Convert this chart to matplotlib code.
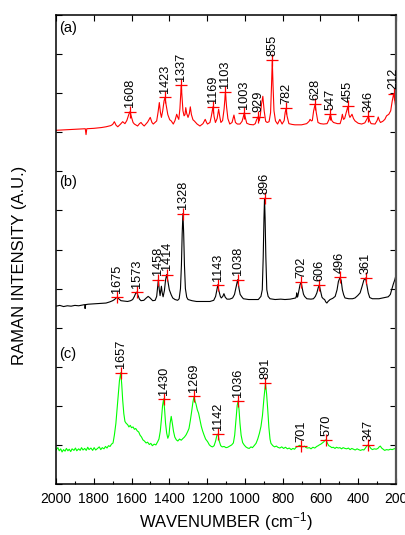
import numpy as np
import matplotlib
matplotlib.use("Agg")
from matplotlib import pyplot as plt

plt.rcParams['font.family'] = ['Liberation Sans', 'DejaVu Sans']
plt.rcParams['mathtext.fontset'] = 'custom'
plt.rcParams['mathtext.rm'] = 'Liberation Sans'
plt.rcParams['mathtext.default'] = 'regular'

# spectrum (a) - red, values in axis units (offset already included)
wn_a = [2000, 1960, 1920, 1880, 1845, 1841, 1837, 1800, 1760, 1735, 1710, 1700, 1691, 1682, 1673,
        1660, 1647, 1635, 1625, 1615, 1608, 1600, 1592, 1585, 1568, 1558, 1550, 1542, 1533, 1515,
        1501, 1492, 1485, 1467, 1460, 1453, 1447, 1442, 1435, 1428, 1423, 1417, 1408, 1398, 1390,
        1379, 1370, 1361, 1355, 1350, 1344, 1340, 1337, 1333, 1328, 1322, 1317, 1313, 1308, 1301,
        1294, 1289, 1283, 1275, 1268, 1253, 1238, 1222, 1210, 1203, 1198, 1185, 1178, 1169, 1163,
        1156, 1147, 1139, 1133, 1127, 1118, 1110, 1103, 1097, 1090, 1080, 1068, 1058, 1050, 1040,
        1026, 1015, 1008, 1003, 998, 990, 975, 955, 945, 938, 929, 924, 918, 912, 905,
        898, 890, 882, 872, 864, 859, 855, 851, 846, 838, 827, 815, 803, 792, 787,
        782, 777, 767, 750, 735, 700, 673, 660, 655, 648, 643, 636, 628, 622, 613,
        600, 584, 565, 555, 547, 540, 531, 510, 496, 489, 484, 478, 472, 464, 455,
        449, 444, 438, 433, 425, 417, 400, 382, 365, 356, 346, 340, 332, 311, 300,
        294, 288, 282, 270, 259, 250, 238, 228, 220, 212, 206, 200]
int_a = [9.05, 9.06, 9.07, 9.08, 9.09, 8.94, 9.09, 9.10, 9.12, 9.14, 9.17, 9.20, 9.27, 9.18, 9.14,
         9.20, 9.27, 9.22, 9.30, 9.45, 9.53, 9.38, 9.25, 9.21, 9.16, 9.22, 9.25, 9.20, 9.16, 9.26,
         9.38, 9.25, 9.21, 9.29, 9.50, 9.76, 9.50, 9.38, 9.55, 9.80, 9.89, 9.70, 9.45, 9.32, 9.29,
         9.21, 9.30, 9.46, 9.38, 9.33, 9.60, 9.95, 10.21, 9.90, 9.55, 9.42, 9.45, 9.63, 9.48, 9.38,
         9.48, 9.65, 9.45, 9.32, 9.29, 9.21, 9.16, 9.22, 9.33, 9.25, 9.21, 9.25, 9.40, 9.65, 9.40,
         9.25, 9.35, 9.59, 9.40, 9.25, 9.30, 9.60, 10.02, 9.65, 9.35, 9.21, 9.25, 9.44, 9.25, 9.21,
         9.21, 9.28, 9.40, 9.50, 9.38, 9.23, 9.20, 9.19, 9.22, 9.32, 9.40, 9.29, 9.45, 9.72, 9.92,
         9.55, 9.28, 9.25, 9.27, 9.50, 10.20, 10.85, 10.20, 9.55, 9.29, 9.21, 9.33, 9.21, 9.30, 9.50,
         9.61, 9.42, 9.22, 9.20, 9.19, 9.19, 9.22, 9.28, 9.33, 9.29, 9.30, 9.55, 9.72, 9.50, 9.25,
         9.22, 9.21, 9.22, 9.32, 9.46, 9.30, 9.25, 9.22, 9.22, 9.33, 9.46, 9.33, 9.35, 9.50, 9.66,
         9.45, 9.38, 9.42, 9.46, 9.35, 9.29, 9.23, 9.21, 9.24, 9.32, 9.41, 9.30, 9.22, 9.21, 9.30,
         9.39, 9.30, 9.25, 9.28, 9.33, 9.42, 9.46, 9.55, 9.80, 9.99, 9.80, 9.60]
pk_a = [1608, 1423, 1337, 1169, 1103, 1003, 929, 855, 782, 628, 547, 455, 346, 212]
pkh_a = [9.53, 9.89, 10.21, 9.65, 10.02, 9.50, 9.40, 10.85, 9.61, 9.72, 9.46, 9.66, 9.41, 9.99]

# spectrum (b) - black
wn_b = [2000, 1980, 1960, 1940, 1920, 1900, 1880, 1860, 1848, 1846, 1843, 1830, 1800, 1770, 1735,
        1715, 1700, 1690, 1682, 1675, 1668, 1656, 1640, 1621, 1605, 1594, 1585, 1578, 1573, 1567,
        1558, 1550, 1535, 1522, 1512, 1502, 1488, 1475, 1467, 1462, 1458, 1454, 1449, 1445, 1442,
        1438, 1433, 1426, 1420, 1414, 1408, 1400, 1390, 1382, 1370, 1356, 1348, 1341, 1336, 1332,
        1328, 1324, 1320, 1315, 1308, 1301, 1280, 1256, 1220, 1185, 1165, 1155, 1148, 1143, 1138,
        1130, 1125, 1117, 1111, 1104, 1095, 1080, 1065, 1055, 1046, 1038, 1031, 1025, 1015, 1008,
        980, 950, 929, 915, 908, 903, 899, 896, 893, 889, 884, 877, 867, 840, 810,
        788, 760, 740, 731, 727, 726, 723, 720, 714, 708, 702, 696, 690, 684, 672,
        650, 637, 627, 619, 612, 606, 600, 592, 585, 578, 572, 566, 560, 549, 535,
        522, 512, 505, 496, 490, 484, 477, 470, 450, 430, 417, 403, 390, 380, 370,
        361, 355, 347, 339, 325, 312, 290, 260, 241, 230, 223, 214, 206, 200]
int_b = [4.55, 4.57, 4.54, 4.56, 4.55, 4.57, 4.56, 4.58, 4.59, 4.49, 4.59, 4.60, 4.61, 4.62, 4.63,
         4.66, 4.69, 4.72, 4.76, 4.78, 4.74, 4.69, 4.68, 4.67, 4.69, 4.72, 4.80, 4.88, 4.91, 4.84,
         4.73, 4.69, 4.70, 4.76, 4.80, 4.76, 4.69, 4.70, 4.80, 5.05, 5.23, 5.00, 4.82, 4.95, 5.06,
         4.90, 4.79, 4.95, 5.22, 5.36, 5.20, 4.97, 4.84, 4.76, 4.72, 4.70, 4.74, 5.00, 5.60, 6.40,
         6.92, 6.40, 5.60, 5.00, 4.78, 4.72, 4.69, 4.67, 4.67, 4.67, 4.70, 4.80, 4.98, 5.10, 4.95,
         4.80, 4.76, 4.80, 4.87, 4.78, 4.73, 4.73, 4.76, 4.85, 5.05, 5.23, 5.00, 4.85, 4.78, 4.74,
         4.72, 4.72, 4.72, 4.80, 4.97, 5.80, 6.80, 7.31, 6.80, 5.80, 4.97, 4.80, 4.74, 4.72, 4.73,
         4.72, 4.73, 4.75, 4.76, 4.82, 4.89, 4.78, 4.80, 4.95, 5.10, 5.16, 5.00, 4.86, 4.80, 4.74,
         4.73, 4.74, 4.80, 4.89, 5.02, 5.09, 4.95, 4.78, 4.74, 4.72, 4.66, 4.63, 4.67, 4.72, 4.75,
         4.80, 4.97, 5.18, 5.29, 5.20, 4.97, 4.84, 4.76, 4.74, 4.74, 4.76, 4.82, 4.89, 5.05, 5.22,
         5.27, 5.10, 4.89, 4.77, 4.74, 4.74, 4.74, 4.77, 4.79, 4.85, 4.97, 5.12, 5.23, 5.35]
pk_b = [1675, 1573, 1458, 1414, 1328, 1143, 1038, 896, 702, 606, 496, 361]
pkh_b = [4.78, 4.91, 5.23, 5.36, 6.92, 5.10, 5.23, 7.31, 5.16, 5.09, 5.29, 5.27]

# spectrum (c) - green
wn_c = [2000, 1990, 1983, 1975, 1968, 1960, 1952, 1945, 1937, 1930, 1922, 1915, 1905, 1897, 1890,
        1880, 1872, 1865, 1857, 1848, 1840, 1832, 1825, 1815, 1806, 1798, 1790, 1780, 1771, 1763,
        1755, 1746, 1738, 1730, 1722, 1714, 1706, 1698, 1691, 1683, 1676, 1670, 1664, 1657, 1652,
        1647, 1641, 1635, 1628, 1621, 1614, 1607, 1600, 1592, 1585, 1578, 1570, 1562, 1555, 1547,
        1540, 1532, 1523, 1515, 1506, 1498, 1490, 1480, 1471, 1462, 1455, 1448, 1442, 1436, 1430,
        1425, 1420, 1414, 1408, 1402, 1396, 1390, 1384, 1378, 1371, 1363, 1355, 1346, 1337, 1329,
        1320, 1311, 1303, 1296, 1289, 1282, 1275, 1269, 1264, 1259, 1252, 1245, 1238, 1231, 1224,
        1216, 1208, 1197, 1188, 1178, 1171, 1163, 1155, 1148, 1142, 1136, 1128, 1120, 1110, 1100,
        1091, 1080, 1070, 1061, 1054, 1047, 1041, 1036, 1031, 1026, 1020, 1012, 1004, 995, 985,
        977, 968, 960, 951, 941, 932, 923, 915, 907, 899, 891, 885, 879, 873, 867,
        862, 852, 843, 833, 826, 815, 805, 795, 785, 775, 765, 755, 746, 737, 729,
        720, 711, 701, 693, 685, 676, 668, 659, 650, 640, 630, 620, 612, 606, 598,
        590, 582, 576, 570, 563, 556, 548, 540, 532, 523, 515, 506, 497, 488, 480,
        470, 461, 452, 443, 434, 425, 416, 406, 398, 388, 378, 370, 362, 355, 347,
        340, 333, 325, 315, 305, 296, 289, 283, 276, 268, 260, 250, 240, 230, 220,
        210, 200]
int_c = [0.87, 0.93, 0.85, 0.90, 0.82, 0.88, 0.84, 0.91, 0.85, 0.89, 0.83, 0.90, 0.86, 0.92, 0.85,
         0.90, 0.86, 0.93, 0.87, 0.91, 0.86, 0.94, 0.88, 0.92, 0.86, 0.93, 0.87, 0.91, 0.95, 0.88,
         0.93, 0.90, 0.96, 0.92, 0.98, 0.96, 1.02, 1.05, 1.25, 1.55, 1.95, 2.30, 2.65, 2.85, 2.55,
         2.15, 1.80, 1.60, 1.55, 1.52, 1.46, 1.50, 1.44, 1.46, 1.40, 1.42, 1.36, 1.33, 1.25, 1.20,
         1.13, 1.10, 1.05, 1.07, 1.01, 1.04, 0.98, 1.02, 1.00, 1.08, 1.15, 1.35, 1.65, 2.00, 2.18,
         1.90, 1.55, 1.30, 1.17, 1.25, 1.55, 1.73, 1.55, 1.35, 1.20, 1.13, 1.10, 1.15, 1.12, 1.16,
         1.20, 1.26, 1.34, 1.42, 1.62, 1.85, 2.10, 2.24, 2.12, 2.05, 1.90, 1.81, 1.65, 1.48, 1.36,
         1.25, 1.15, 1.08, 1.00, 0.96, 0.95, 0.98, 1.10, 1.25, 1.28, 1.10, 0.98, 0.95, 0.96, 0.93,
         0.94, 0.97, 1.00, 1.05, 1.25, 1.64, 2.00, 2.13, 1.90, 1.55, 1.25, 1.06, 1.00, 0.95, 0.92,
         0.91, 0.95, 0.93, 0.98, 1.04, 1.15, 1.30, 1.47, 1.75, 2.20, 2.58, 2.30, 1.90, 1.45, 1.15,
         1.04, 0.98, 0.95, 0.97, 0.94, 0.92, 0.95, 0.91, 0.94, 0.90, 0.92, 0.88, 0.91, 0.89, 0.94,
         0.96, 0.99, 0.97, 0.95, 0.97, 0.93, 0.92, 0.93, 0.90, 0.94, 0.92, 0.96, 0.98, 1.00, 1.02,
         1.05, 1.08, 1.12, 1.13, 1.04, 0.98, 0.96, 0.93, 0.94, 0.91, 0.94, 0.92, 0.93, 0.90, 0.93,
         0.91, 0.90, 0.92, 0.88, 0.91, 0.89, 0.87, 0.90, 0.88, 0.86, 0.88, 0.87, 0.92, 0.97, 1.00,
         0.96, 0.91, 0.88, 0.90, 0.89, 0.91, 0.95, 0.97, 0.92, 0.89, 0.86, 0.88, 0.87, 0.89, 0.88,
         0.90, 0.91]
pk_c = [1657, 1430, 1269, 1142, 1036, 891, 701, 570, 347]
pkh_c = [2.85, 2.18, 2.24, 1.28, 2.13, 2.58, 0.97, 1.13, 1.00]

panel_labels = ['(a)', '(b)', '(c)']
xticks = list(range(2000, 199, -200))

fig = plt.figure(figsize=(4.06, 5.35), dpi=100)
ax = fig.add_axes([56/406, 1 - 484/535, 340/406, 469/535])

spectra = [(wn_a, int_a, pk_a, pkh_a, '#ff0000'),
           (wn_b, int_b, pk_b, pkh_b, '#000000'),
           (wn_c, int_c, pk_c, pkh_c, '#00ff00')]

for wn, inten, pk, pkh, col in spectra:
    ax.plot(wn, inten, color=col, lw=0.8)
    ax.plot(pk, pkh, ls='none', marker='+', ms=8, mew=0.9, color='#ff0000')
    for p, h in zip(pk, pkh):
        ax.annotate(str(p), (p, h), xytext=(0, 3), textcoords='offset points',
                    rotation=90, ha='center', va='bottom', fontsize=9.2)

ax.set_xlim(2000, 200)
ax.set_ylim(0, 12)
ax.set_xticks(xticks)
ax.set_xticks(list(range(1900, 200, -200)), minor=True)
ax.set_yticks(range(0, 13))
ax.tick_params(axis='x', which='major', direction='in', top=True, length=4.5, width=0.8,
               labelsize=10, pad=6)
ax.tick_params(axis='x', which='minor', direction='in', top=False, length=2.5, width=0.8)
ax.tick_params(axis='y', which='major', direction='in', left=True, right=True, length=4,
               width=0.8, labelleft=False)
for s in ax.spines.values():
    s.set_linewidth(1.1)
ax.spines['right'].set_color('#555555')
ax.spines['right'].set_linewidth(1.6)

for lab, yy in zip(panel_labels, [0.972, 0.644, 0.277]):
    ax.text(0.008, yy, lab, transform=ax.transAxes, ha='left', va='center', fontsize=10.5)

fig.text(226/406, 1 - 522/535, 'WAVENUMBER (cm$^{-1}$)', ha='center', va='center', fontsize=12)
fig.text(20/406, 1 - 265/535, 'RAMAN INTENSITY (A.U.)', ha='center', va='center',
         rotation=90, fontsize=12)

fig.savefig('out.png', dpi=100)
